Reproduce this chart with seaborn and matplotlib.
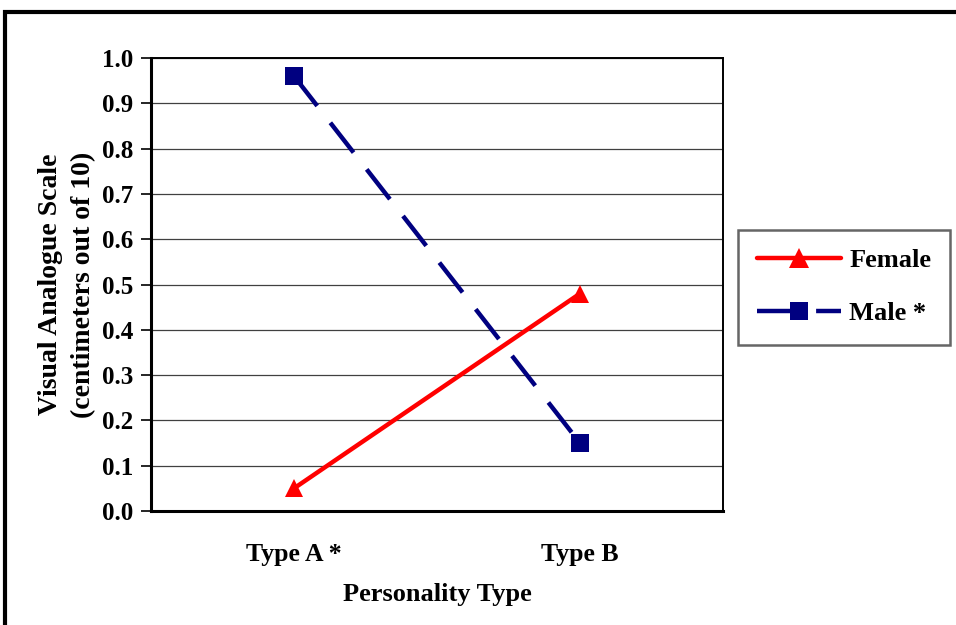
import matplotlib
matplotlib.use("Agg")
import matplotlib.pyplot as plt
from matplotlib.patches import Rectangle
from matplotlib.lines import Line2D
import seaborn as sns
import pandas as pd

categories = ["Type A *", "Type B"]
female = [0.05, 0.48]
male = [0.96, 0.15]
series_names = ["Female", "Male *"]
y_ticks = [0.0, 0.1, 0.2, 0.3, 0.4, 0.5, 0.6, 0.7, 0.8, 0.9, 1.0]

sns.set_theme(style="white")
plt.rcParams["font.family"] = ["Liberation Serif", "DejaVu Serif"]
plt.rcParams["font.weight"] = "bold"
for key in ("text.color", "axes.labelcolor", "xtick.color", "ytick.color"):
    plt.rcParams[key] = "black"

rows = []
for name, vals in zip(series_names, [female, male]):
    for i, (cat, v) in enumerate(zip(categories, vals)):
        rows.append({"pos": i, "Personality": cat, "value": v, "series": name})
df = pd.DataFrame(rows)

fig = plt.figure(figsize=(9.56, 6.25), dpi=100)
ax = fig.add_axes([151 / 956, 1 - 511 / 625, (723 - 151) / 956, (511 - 58) / 625])

palette = {"Female": "#ff0000", "Male *": "#000080"}
dash_male = (8.5, 4.8)
sns.lineplot(
    data=df, x="pos", y="value", hue="series", style="series",
    palette=palette,
    markers={"Female": "^", "Male *": "s"},
    dashes={"Female": "", "Male *": dash_male},
    linewidth=3.2, markersize=13, markeredgewidth=0,
    ax=ax, legend=False, sort=False,
)

ax.set_xlim(-0.5, 1.5)
ax.set_ylim(0, 1.0)
ax.set_yticks(y_ticks)
ax.set_yticklabels([f"{t:.1f}" for t in y_ticks], fontsize=18, fontweight="bold")
ax.set_xticks(range(len(categories)))
ax.set_xticklabels(categories, fontsize=18.5, fontweight="bold")
ax.set_xticks([-0.5, 0.5, 1.5], minor=True)
ax.tick_params(axis="x", which="major", length=0, pad=23)
ax.tick_params(axis="x", which="minor", length=7, width=1.2, direction="out", color="black")
ax.tick_params(axis="y", length=7, width=1.2, direction="out", color="black", pad=6, left=True)
ax.grid(axis="y", color="#404040", linewidth=0.9)
ax.grid(axis="x", visible=False)
ax.set_axisbelow(True)
for s in ax.spines.values():
    s.set_visible(True)
    s.set_color("black")
    s.set_linewidth(1.4)
ax.spines["left"].set_linewidth(2.2)
ax.spines["bottom"].set_linewidth(2.2)

ax.set_xlabel("Personality Type", fontsize=19, fontweight="bold", labelpad=12)
ax.set_ylabel("Visual Analogue Scale\n(centimeters out of 10)", fontsize=20,
              fontweight="bold", labelpad=4, linespacing=1.4)

handles = [
    Line2D([], [], color=palette["Female"], marker="^", markersize=14,
           markeredgewidth=0, linewidth=3.2),
    Line2D([], [], color=palette["Male *"], marker="s", markersize=13,
           markeredgewidth=0, linewidth=3.2, dashes=dash_male),
]
leg = fig.legend(
    handles, series_names, loc="upper left",
    bbox_to_anchor=(738 / 956, 1 - 230 / 625), bbox_transform=fig.transFigure,
    frameon=True, fancybox=False, edgecolor="#404040", fontsize=19,
    handlelength=3.2, labelspacing=1.12, borderpad=0.72, handletextpad=0.3,
    borderaxespad=0,
)
leg.get_frame().set_linewidth(1.8)
for t in leg.get_texts():
    t.set_fontweight("bold")

fig.patches.append(Rectangle((5 / 956, -0.1), 1.2, 1 - 12 / 625 + 0.1,
                             transform=fig.transFigure, fill=False,
                             edgecolor="black", linewidth=3, zorder=10))

fig.savefig("out.png", dpi=100)
